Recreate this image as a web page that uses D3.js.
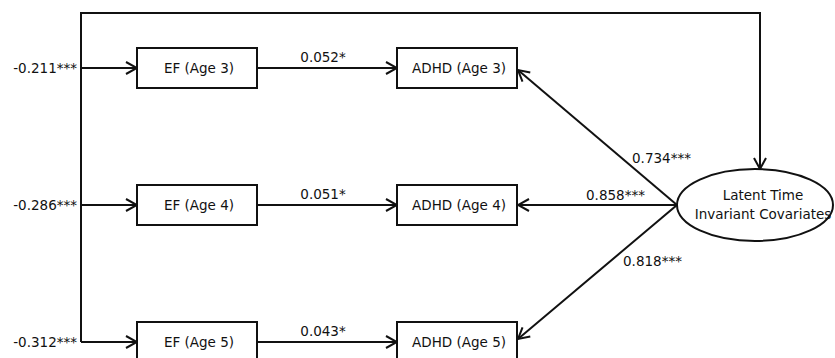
<!DOCTYPE html>
<html>
<head>
<meta charset="utf-8">
<script src="https://cdn.jsdelivr.net/npm/d3@7"></script>
<style>
  body { margin: 0; background: #fff; }
  svg { display: block; }
  text { font-family: "DejaVu Sans", Verdana, sans-serif; font-size: 13.5px; fill: #111; }
</style>
</head>
<body>
<div id="chart"></div>
<script>
// data
var ages = [3, 4, 5];
var efLabels = ["EF (Age 3)", "EF (Age 4)", "EF (Age 5)"];
var adhdLabels = ["ADHD (Age 3)", "ADHD (Age 4)", "ADHD (Age 5)"];
var covToEF = ["-0.211***", "-0.286***", "-0.312***"];
var efToAdhd = ["0.052*", "0.051*", "0.043*"];
var covToAdhd = ["0.734***", "0.858***", "0.818***"];
var latentLabel = ["Latent Time", "Invariant Covariates"];

var w = 835, h = 358;
var boxW = 120, boxH = 40;

var svg = d3.select("#chart").append("svg")
    .attr("width", w)
    .attr("height", h);

// rows by age
var yScale = d3.scaleLinear().domain([3, 5]).range([68, 342]);
// columns
var xPos = {left: 81, ef: 197, adhd: 457, latent: 755};

var latent = {cx: xPos.latent, cy: yScale(4), rx: 78, ry: 36};
var topY = 13;

var defs = svg.append("defs");
defs.append("marker")
    .attr("id", "arrow")
    .attr("markerUnits", "userSpaceOnUse")
    .attr("viewBox", "-1 -7 13 14")
    .attr("refX", 11)
    .attr("refY", 0)
    .attr("markerWidth", 13)
    .attr("markerHeight", 14)
    .attr("orient", "auto")
    .append("path")
    .attr("d", "M0,-6 L11,0 L0,6")
    .attr("fill", "none")
    .attr("stroke", "#111")
    .attr("stroke-width", 2);

var line = d3.line();
var lines = svg.append("g")
    .attr("fill", "none")
    .attr("stroke", "#111")
    .attr("stroke-width", 2);

// top path: from left spine over to the latent ellipse
lines.append("path")
    .attr("d", line([[xPos.left, yScale(5)], [xPos.left, topY], [latent.cx + 5, topY], [latent.cx + 5, latent.cy - latent.ry]]))
    .attr("marker-end", "url(#arrow)");

// spine -> EF
lines.selectAll(".toEF").data(ages).enter()
    .append("path")
    .attr("d", function(d) { return line([[xPos.left, yScale(d)], [xPos.ef - boxW / 2, yScale(d)]]); })
    .attr("marker-end", "url(#arrow)");

// EF -> ADHD
lines.selectAll(".efAdhd").data(ages).enter()
    .append("path")
    .attr("d", function(d) { return line([[xPos.ef + boxW / 2, yScale(d)], [xPos.adhd - boxW / 2, yScale(d)]]); })
    .attr("marker-end", "url(#arrow)");

// latent -> ADHD
var latentLeft = [latent.cx - latent.rx, latent.cy];
var adhdTargetOffset = [2, 0, -3];
lines.selectAll(".latAdhd").data(ages).enter()
    .append("path")
    .attr("d", function(d, i) { return line([latentLeft, [xPos.adhd + boxW / 2 + 1, yScale(d) + adhdTargetOffset[i]]]); })
    .attr("marker-end", "url(#arrow)");

// boxes
var boxes = svg.append("g");
function drawBoxes(cx, labels) {
    var g = boxes.selectAll(null).data(ages).enter().append("g");
    g.append("rect")
        .attr("x", cx - boxW / 2)
        .attr("y", function(d) { return yScale(d) - boxH / 2; })
        .attr("width", boxW)
        .attr("height", boxH)
        .attr("fill", "#fff")
        .attr("stroke", "#111")
        .attr("stroke-width", 2);
    g.append("text")
        .attr("x", cx + 2)
        .attr("y", function(d) { return yScale(d) + 5; })
        .attr("text-anchor", "middle")
        .text(function(d, i) { return labels[i]; });
}
drawBoxes(xPos.ef, efLabels);
drawBoxes(xPos.adhd, adhdLabels);

// latent ellipse
svg.append("ellipse")
    .attr("cx", latent.cx)
    .attr("cy", latent.cy)
    .attr("rx", latent.rx)
    .attr("ry", latent.ry)
    .attr("fill", "#fff")
    .attr("stroke", "#111")
    .attr("stroke-width", 2);
svg.append("g").selectAll("text").data(latentLabel).enter()
    .append("text")
    .attr("x", latent.cx + 8)
    .attr("y", function(d, i) { return latent.cy - 5 + i * 19; })
    .attr("text-anchor", "middle")
    .text(function(d) { return d; });

// coefficient labels
svg.append("g").selectAll("text").data(covToEF).enter()
    .append("text")
    .attr("x", xPos.left - 4)
    .attr("y", function(d, i) { return yScale(ages[i]) + 5; })
    .attr("text-anchor", "end")
    .text(function(d) { return d; });

svg.append("g").selectAll("text").data(efToAdhd).enter()
    .append("text")
    .attr("x", 323)
    .attr("y", function(d, i) { return yScale(ages[i]) - 6; })
    .attr("text-anchor", "middle")
    .text(function(d) { return d; });

var covLabelPos = [[632, 163], [586, 200], [623, 266]];
svg.append("g").selectAll("text").data(covToAdhd).enter()
    .append("text")
    .attr("x", function(d, i) { return covLabelPos[i][0]; })
    .attr("y", function(d, i) { return covLabelPos[i][1]; })
    .text(function(d) { return d; });
</script>
</body>
</html>
